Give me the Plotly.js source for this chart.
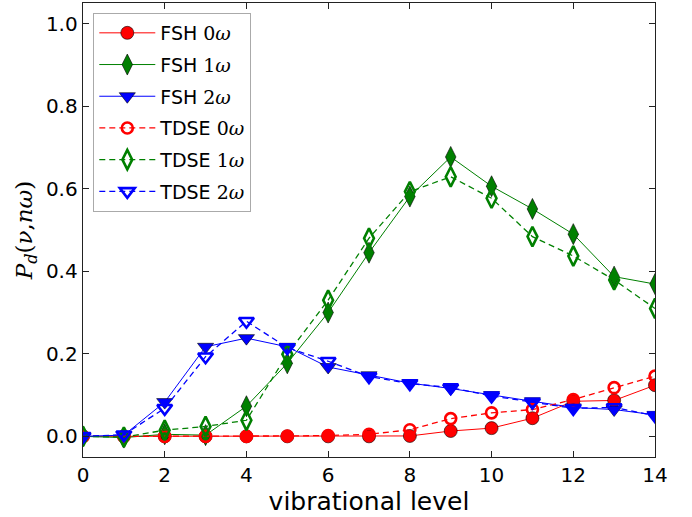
<!DOCTYPE html>
<html>
<head>
<meta charset="utf-8">
<script src="https://cdn.plot.ly/plotly-3.0.1.min.js"></script>
<style>html,body{margin:0;padding:0;background:#fff;}</style>
</head>
<body>
<div id="chart" style="width:692px;height:517px;"></div>
<script>
var levels = [0,1,2,3,4,5,6,7,8,9,10,11,12,13,14];
var fsh0  = [0,0,0,0,0,0,0,0,0.001,0.013,0.02,0.044,0.085,0.087,0.124];
var fsh1  = [0,-0.003,0.005,0.003,0.073,0.177,0.30,0.445,0.581,0.677,0.606,0.551,0.49,0.387,0.369];
var fsh2  = [0,0.003,0.083,0.217,0.238,0.217,0.168,0.148,0.129,0.116,0.10,0.085,0.07,0.065,0.052];
var tdse0 = [0,0,0,0,0,0.001,0.002,0.005,0.016,0.043,0.057,0.065,0.089,0.118,0.146];
var tdse1 = [0,-0.002,0.015,0.024,0.039,0.199,0.33,0.48,0.593,0.629,0.577,0.484,0.437,0.379,0.31];
var tdse2 = [0,0.004,0.068,0.193,0.279,0.215,0.182,0.145,0.128,0.118,0.098,0.083,0.068,0.07,0.05];
var methods = ['FSH','FSH','FSH','TDSE','TDSE','TDSE'];
var orders = ['0','1','2','0','1','2'];

function label(i){
  return methods[i] + ' <span style="font-family:DejaVu Serif">' + orders[i] + '<i>ω</i></span>';
}
function filled(i, y, color, symbol, size){
  return {x: levels, y: y, name: label(i), legendgroup: 'g' + i, type: 'scatter', mode: 'lines+markers',
    line: {color: color, width: 1},
    marker: {symbol: symbol, size: size, color: color, line: {color: '#000', width: 0.6}}};
}
function open(i, y, color, symbol, size){
  return {x: levels, y: y, name: label(i), legendgroup: 'g' + i, type: 'scatter', mode: 'lines+markers',
    line: {color: color, width: 1.3, dash: '6px,4px'},
    marker: {symbol: symbol, size: size, color: color, line: {color: color, width: 2.6}}};
}
var data = [
  filled(0, fsh0, '#ff0000', 'circle', 13),
  filled(1, fsh1, '#008000', 'diamond-tall', 15),
  filled(2, fsh2, '#0000ff', 'triangle-down', 14),
  open(3, tdse0, '#ff0000', 'circle-open', 11),
  open(4, tdse1, '#008000', 'diamond-tall-open', 14),
  open(5, tdse2, '#0000ff', 'triangle-down-open', 13)
];
var axisCommon = {showgrid: false, zeroline: false, showline: true, linecolor: '#222', linewidth: 1.3,
  mirror: 'ticks', ticks: 'inside', ticklen: 6, tickcolor: '#222', tickwidth: 1,
  tickfont: {family: 'DejaVu Sans', size: 20, color: '#000'}};
var layout = {
  width: 692, height: 517,
  margin: {l: 83, r: 37, t: 3, b: 60},
  paper_bgcolor: '#fff', plot_bgcolor: '#fff',
  font: {family: 'DejaVu Sans', color: '#000'},
  xaxis: Object.assign({}, axisCommon, {range: [0, 14], dtick: 2, tick0: 0, automargin: true,
    title: {text: 'vibrational level', font: {family: 'DejaVu Sans', size: 25}, standoff: 0}}),
  yaxis: Object.assign({}, axisCommon, {range: [-0.05, 1.05], dtick: 0.2, tick0: 0, tickformat: '.1f',
    title: {text: '<i>P</i><sub><i>d</i></sub>(<i>ν</i>,<i>nω</i>)', font: {family: 'DejaVu Serif', size: 23}, standoff: 6}}),
  legend: {x: 0.018, y: 0.978, xanchor: 'left', yanchor: 'top', bgcolor: '#fff',
    bordercolor: '#aaa', borderwidth: 1, font: {family: 'DejaVu Sans', size: 19},
    tracegroupgap: 4, itemwidth: 56},
  showlegend: true
};
Plotly.newPlot('chart', data, layout, {displayModeBar: false, staticPlot: true});
</script>
</body>
</html>
